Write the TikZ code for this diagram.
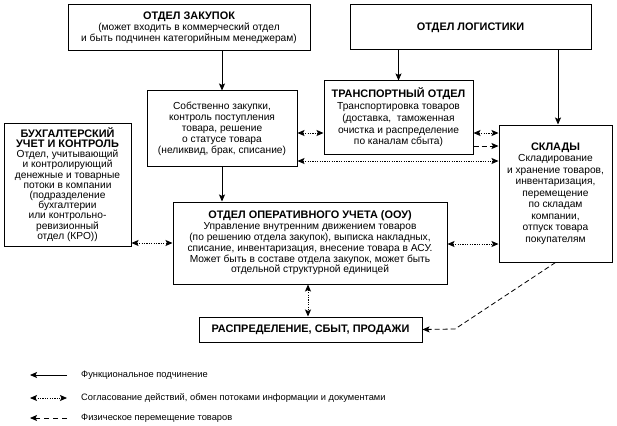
\documentclass[tikz,border=0pt]{standalone}
\usepackage{fontspec}
\setmainfont{Liberation Sans}
\usetikzlibrary{arrows.meta,calc}
\newcommand\hd[1]{{\fontsize{10.9}{11}\selectfont\bfseries #1}}
\begin{document}
\begin{tikzpicture}[x=1pt,y=-1pt,
  box/.style={draw,line width=1pt,align=center,inner sep=0pt,font=\fontsize{10.2}{11}\selectfont},
  tip/.tip={Stealth[length=7pt,width=6pt,inset=1.5pt]},
  sol/.style={line width=0.8pt,-tip},
  dot2/.style={line width=0.8pt,dash pattern=on 1.2pt off 1.2pt,tip-tip},
  dsh/.style={line width=0.8pt,dash pattern=on 5pt off 3pt,-tip},
  leg/.style={anchor=west,font=\fontsize{9.3}{10}\selectfont,inner sep=0pt}
]
\useasboundingbox (0,0) rectangle (617,425);

\node[box,minimum width=242pt,minimum height=46pt] (zak) at (189,28)
  {\hd{ОТДЕЛ ЗАКУПОК}\\(может входить в коммерческий отдел\\и быть подчинен категорийным менеджерам)};
\node[box,minimum width=241pt,minimum height=45pt] (log) at (470.5,27.5)
  {\hd{ОТДЕЛ ЛОГИСТИКИ}};
\node[box,minimum width=150pt,minimum height=75pt] (sob) at (222,128.5)
  {Собственно закупки,\\контроль поступления\\товара, решение\\о статусе товара\\(неликвид, брак, списание)};
\node[box,minimum width=149pt,minimum height=73pt,font=\fontsize{10.2}{11.7}\selectfont] (tr) at (398.5,117.5)
  {\hd{ТРАНСПОРТНЫЙ ОТДЕЛ}\\Транспортировка товаров\\(доставка,\ \ таможенная\\очистка и распределение\\по каналам сбыта)};
\node[box,minimum width=113pt,minimum height=137pt,font=\fontsize{10.2}{11.5}\selectfont] (skl) at (555.5,193.5)
  {\hd{СКЛАДЫ}\\Складирование\\и хранение товаров,\\инвентаризация,\\перемещение\\по складам\\компании,\\отпуск товара\\покупателям};
\node[box,minimum width=127pt,minimum height=123pt,font=\fontsize{10.2}{10.2}\selectfont] (buh) at (67.5,184.5)
  {\hd{БУХГАЛТЕРСКИЙ}\\\hd{УЧЕТ И КОНТРОЛЬ}\\Отдел, учитывающий\\и контролирующий\\денежные и товарные\\потоки в компании\\(подразделение\\бухгалтерии\\или контрольно-\\ревизионный\\отдел (КРО))};
\node[box,minimum width=274pt,minimum height=82pt,font=\fontsize{10.2}{10.8}\selectfont] (oou) at (310,243)
  {\hd{ОТДЕЛ ОПЕРАТИВНОГО УЧЕТА (ООУ)}\\Управление внутренним движением товаров\\(по решению отдела закупок), выписка накладных,\\списание, инвентаризация, внесение товара в АСУ.\\Может быть в составе отдела закупок, может быть\\отдельной структурной единицей};
\node[box,minimum width=223pt,minimum height=25pt] (rasp) at (310.5,329.5)
  {\hd{РАСПРЕДЕЛЕНИЕ, СБЫТ, ПРОДАЖИ}};

\coordinate (Y133) at (0,133);
\coordinate (Y146) at (0,146);
\coordinate (Y161) at (0,161);
\coordinate (Y243) at (0,243);
\coordinate (Y244) at (0,244);
\coordinate (X308) at (308,0);
\coordinate (X558) at (558,0);
\coordinate (bend) at (455,329);

\draw[sol] (zak.south -| sob.north) -- (sob.north);
\draw[sol] (log.south -| tr.north) -- (tr.north);
\draw[sol] (log.south -| X558) -- (skl.north -| X558);
\draw[sol] (sob.south) -- (sob.south |- oou.north);
\draw[dot2] (sob.east |- Y133) -- (tr.west |- Y133);
\draw[dot2] (tr.east |- Y133) -- (skl.west |- Y133);
\draw[dsh] (tr.east |- Y146) -- (skl.west |- Y146);
\draw[dot2] (sob.east |- Y161) -- (skl.west |- Y161);
\draw[dot2] (buh.east |- Y243) -- (oou.west |- Y243);
\draw[dot2] (oou.east |- Y244) -- (skl.west |- Y244);
\draw[dot2] (oou.south -| X308) -- (rasp.north -| X308);
\draw[dsh] (skl.south) -- (bend) -- (rasp.east);

% legend
\coordinate (l1a) at (30,375); \coordinate (l1b) at (67,375);
\coordinate (l2a) at (30,398); \coordinate (l2b) at (67,398);
\coordinate (l3a) at (30,418); \coordinate (l3b) at (67,418);
\draw[sol] (l1b) -- (l1a);
\draw[dot2] (l2a) -- (l2b);
\draw[dsh,dash pattern=on 5pt off 4pt] (l3b) -- (l3a);
\node[leg] (t1) at (81,375) {Функциональное подчинение};
\node[leg] (t2) at (81,398) {Согласование действий, обмен потоками информации и документами};
\node[leg] (t3) at (81,418) {Физическое перемещение товаров};
\end{tikzpicture}
\end{document}
